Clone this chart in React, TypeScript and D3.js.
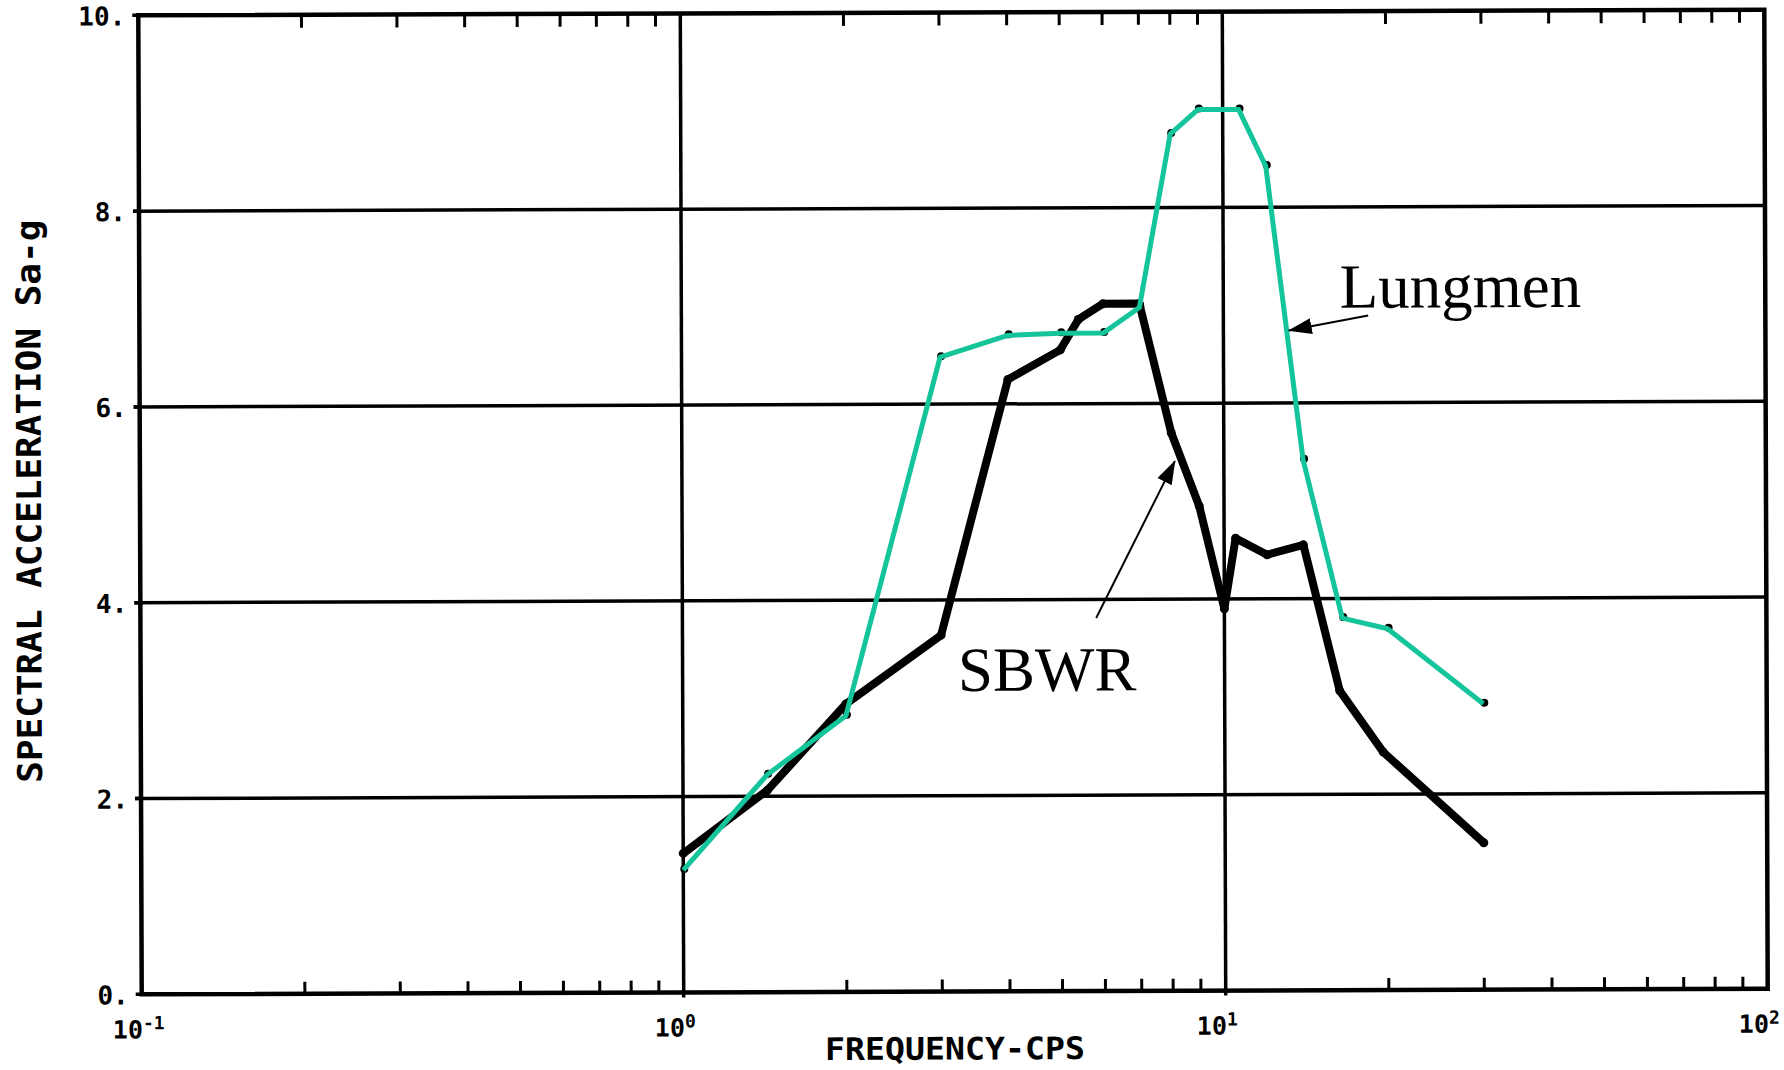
import * as d3 from 'd3';

// Lungmen (green) and SBWR (black) spectra
const lungFreq = [1, 1.43, 2, 3, 4, 5, 6, 7, 8, 9, 10.7, 12, 14, 16.5, 20, 30];
const lungSa = [1.25, 2.22, 2.82, 6.48, 6.7, 6.72, 6.72, 6.98, 8.75, 9.0, 9.0, 8.42, 5.42, 3.8, 3.69, 2.92];

const sbwrFreq = [1, 1.43, 2, 3, 4, 5, 5.4, 6, 7, 8, 9, 10, 10.5, 12, 14, 16.3, 19.6, 30];
const sbwrSa = [1.42, 2.06, 2.94, 3.64, 6.25, 6.55, 6.86, 7.02, 7.02, 5.7, 4.95, 3.9, 4.62, 4.45, 4.55, 3.06, 2.43, 1.5];

const yTicks = [0, 2, 4, 6, 8, 10];
const yTickLabels = ['0.', '2.', '4.', '6.', '8.', '10.'];
const xDecades = [0.1, 1, 10, 100];
const xExponents = ['-1', '0', '1', '2'];
const xGrid = [1, 10];
const yGrid = [2, 4, 6, 8];

// annotation anchors in data units: [freq, Sa]
const lungLabel = [16.4, 6.97];
const lungArrow = [[18.5, 6.89], [13.2, 6.74]];
const sbwrLabel = [3.22, 3.07];
const sbwrArrow = [[5.8, 3.81], [8.12, 5.41]];

const W = 1784, H = 1070;
const left = 140, right = 1766, top = 12.5, bottom = 991.5;
const GREEN = '#14c49a';
const mono = "'DejaVu Sans Mono', monospace";
const serif = "'Liberation Serif', 'Times New Roman', serif";

export default function App() {
  const x = d3.scaleLog().domain([0.1, 100]).range([left, right]);
  const y = d3.scaleLinear().domain([0, 10]).range([bottom, top]);

  const lungPts: [number, number][] = lungFreq.map((f, i) => [x(f), y(lungSa[i])]);
  const sbwrPts: [number, number][] = sbwrFreq.map((f, i) => [x(f), y(sbwrSa[i])]);
  const path = d3.line();

  // minor ticks 2..9 in each decade
  const minor: number[] = [];
  [0.1, 1, 10].forEach(d => { for (let k = 2; k <= 9; k++) minor.push(d * k); });

  const cx = (left + right) / 2, cy = (top + bottom) / 2;

  return (
    <svg width={W} height={H} style={{ position: 'absolute', left: 0, top: 0, background: '#fff' }}>
      <defs>
        <marker id="ah" markerUnits="userSpaceOnUse" markerWidth={24} markerHeight={16}
          viewBox="0 0 24 16" refX={23} refY={8} orient="auto">
          <path d="M0,0 L24,8 L0,16 z" fill="#000" />
        </marker>
      </defs>
      <rect width={W} height={H} fill="#fff" />
      <g transform={`rotate(-0.2, ${cx}, ${cy})`}>
        {/* grid */}
        {yGrid.map(v => (
          <line key={'gy' + v} x1={left - 6} x2={right} y1={y(v)} y2={y(v)} stroke="#000" strokeWidth={3.5} />
        ))}
        {xGrid.map(f => (
          <line key={'gx' + f} x1={x(f)} x2={x(f)} y1={top} y2={bottom + 5} stroke="#000" strokeWidth={3.5} />
        ))}
        {/* minor ticks top and bottom */}
        {minor.map(f => (
          <g key={'mt' + f}>
            <line x1={x(f)} x2={x(f)} y1={bottom} y2={bottom - 12} stroke="#000" strokeWidth={3} />
            <line x1={x(f)} x2={x(f)} y1={top} y2={top + 13} stroke="#000" strokeWidth={3} />
          </g>
        ))}
        {/* frame */}
        <rect x={left} y={top} width={right - left} height={bottom - top} fill="none" stroke="#000" strokeWidth={4.5} />
        {yTicks.map(v => (
          <line key={'yt' + v} x1={left - 6} x2={left} y1={y(v)} y2={y(v)} stroke="#000" strokeWidth={3.5} />
        ))}

        {/* y tick labels */}
        {yTicks.map((v, i) => (
          <text key={'yl' + v} x={left - 13} y={y(v) + 10} textAnchor="end"
            fontFamily={mono} fontWeight="bold" fontSize={26}>{yTickLabels[i]}</text>
        ))}
        {/* x tick labels */}
        {xDecades.map((f, i) => (
          <text key={'xl' + f} x={x(f) - 29} y={bottom + 44}
            fontFamily={mono} fontWeight="bold" fontSize={25}>
            10<tspan dy={-9} fontSize={18}>{xExponents[i]}</tspan>
          </text>
        ))}
        <text x={953} y={bottom + 68} textAnchor="middle" fontFamily={mono} fontWeight="bold"
          fontSize={31} textLength={260} lengthAdjust="spacingAndGlyphs">FREQUENCY-CPS</text>
        <text transform={`translate(41, 498) rotate(-90)`} textAnchor="middle" fontFamily={mono}
          fontWeight="bold" fontSize={34} textLength={563} lengthAdjust="spacingAndGlyphs">
          SPECTRAL ACCELERATION Sa-g</text>

        {/* SBWR curve */}
        <path d={path(sbwrPts) || ''} fill="none" stroke="#000" strokeWidth={8} strokeLinejoin="round" />
        {sbwrPts.map((p, i) => (
          <circle key={'sd' + i} cx={p[0]} cy={p[1]} r={4.5} fill="#000" />
        ))}
        {/* Lungmen curve */}
        {lungPts.map((p, i) => (
          <circle key={'ld' + i} cx={p[0] + 1} cy={p[1] - 1} r={4} fill="#000" />
        ))}
        <path d={path(lungPts) || ''} fill="none" stroke={GREEN} strokeWidth={5} strokeLinejoin="round" />

        {/* annotations */}
        <text x={x(lungLabel[0])} y={y(lungLabel[1])} fontFamily={serif} fontSize={63}>Lungmen</text>
        <line x1={x(lungArrow[0][0])} y1={y(lungArrow[0][1])} x2={x(lungArrow[1][0])} y2={y(lungArrow[1][1])}
          stroke="#000" strokeWidth={2} markerEnd="url(#ah)" />
        <text x={x(sbwrLabel[0])} y={y(sbwrLabel[1])} fontFamily={serif} fontSize={63}>SBWR</text>
        <line x1={x(sbwrArrow[0][0])} y1={y(sbwrArrow[0][1])} x2={x(sbwrArrow[1][0])} y2={y(sbwrArrow[1][1])}
          stroke="#000" strokeWidth={2} markerEnd="url(#ah)" />
      </g>
    </svg>
  );
}
